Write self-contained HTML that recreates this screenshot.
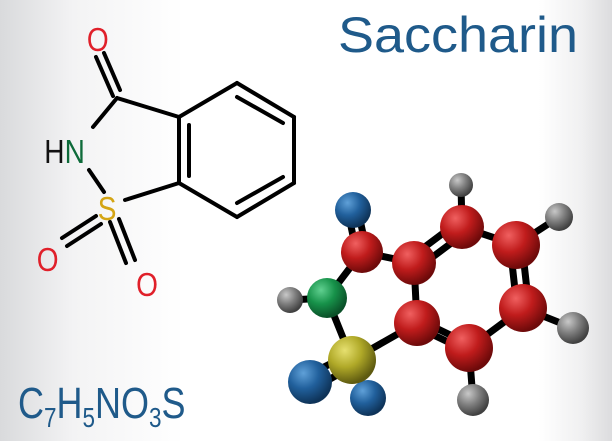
<!DOCTYPE html>
<html><head><style>
html,body{margin:0;padding:0}
body{width:612px;height:441px;overflow:hidden;background:linear-gradient(90deg,#d9dadc 0%,#f3f3f4 12%,#fff 30%,#fff 88%,#f0f0f1 95%,#dcdcde 100%);font-family:"Liberation Sans",sans-serif;position:relative}
</style></head><body>
<svg width="612" height="441" viewBox="0 0 612 441" style="position:absolute;left:0;top:0">
<defs>
<radialGradient id="r" cx="35%" cy="30%" r="70%"><stop offset="0" stop-color="#f06060"/><stop offset="0.5" stop-color="#c01c1c"/><stop offset="1" stop-color="#6e0a0a"/></radialGradient>
<radialGradient id="b" cx="35%" cy="30%" r="70%"><stop offset="0" stop-color="#5fa0d8"/><stop offset="0.5" stop-color="#21609c"/><stop offset="1" stop-color="#0e3358"/></radialGradient>
<radialGradient id="g" cx="35%" cy="30%" r="70%"><stop offset="0" stop-color="#60d090"/><stop offset="0.5" stop-color="#17924a"/><stop offset="1" stop-color="#0a5028"/></radialGradient>
<radialGradient id="y" cx="35%" cy="30%" r="70%"><stop offset="0" stop-color="#e6e070"/><stop offset="0.5" stop-color="#b0a928"/><stop offset="1" stop-color="#5e5a10"/></radialGradient>
<radialGradient id="h" cx="35%" cy="30%" r="70%"><stop offset="0" stop-color="#c8c8c8"/><stop offset="0.5" stop-color="#808080"/><stop offset="1" stop-color="#404040"/></radialGradient>
</defs>
<text x="338" y="52" font-size="50" fill="#1f5a8a" textLength="240" lengthAdjust="spacingAndGlyphs">Saccharin</text>
<g transform="translate(18,418) scale(0.9,1.1)">
<text x="0" y="0" font-size="40" fill="#1f5a8a">C<tspan font-size="25" dy="8">7</tspan><tspan dy="-8">H</tspan><tspan font-size="25" dy="8">5</tspan><tspan dy="-8">NO</tspan><tspan font-size="25" dy="8">3</tspan><tspan dy="-8">S</tspan></text>
</g>
<g stroke="#000" stroke-width="4" fill="none" stroke-linecap="round">
<line x1="96" y1="57" x2="113" y2="96"/><line x1="104" y1="53" x2="120" y2="90"/>
<line x1="117" y1="98" x2="179" y2="117"/>
<line x1="117" y1="98" x2="93" y2="127"/>
<line x1="89" y1="170" x2="104" y2="192"/>
<line x1="125" y1="200" x2="179" y2="183"/>
<line x1="179" y1="117" x2="179" y2="183"/>
<line x1="189" y1="125" x2="189" y2="176"/>
<line x1="179" y1="117" x2="237" y2="83"/>
<line x1="237" y1="83" x2="294" y2="117"/>
<line x1="237" y1="97" x2="283" y2="123"/>
<line x1="294" y1="117" x2="294" y2="183"/>
<line x1="294" y1="183" x2="237" y2="217"/>
<line x1="283" y1="177" x2="237" y2="203"/>
<line x1="237" y1="217" x2="179" y2="183"/>
<line x1="96" y1="216" x2="62" y2="238"/><line x1="101" y1="224" x2="67" y2="246"/>
<line x1="110" y1="222" x2="126" y2="263"/><line x1="119" y1="219" x2="135" y2="260"/>
</g>
<g font-size="33" transform="scale(0.85,1)">
<text x="115" y="51" fill="#e0202a" text-anchor="middle">O</text>
<text x="52" y="163" fill="#111">H</text>
<text x="76" y="163" fill="#0e6b3a">N</text>
<text x="126" y="220" fill="#d4a514" text-anchor="middle">S</text>
<text x="56" y="271" fill="#e0202a" text-anchor="middle">O</text>
<text x="173" y="296" fill="#e0202a" text-anchor="middle">O</text>
</g>
<g stroke="#000" stroke-width="7" stroke-linecap="round">
<line x1="348" y1="212" x2="356" y2="250"/><line x1="358" y1="210" x2="366" y2="248"/>
<line x1="362" y1="252" x2="414" y2="263"/>
<line x1="362" y1="252" x2="327" y2="298"/>
<line x1="327" y1="298" x2="290" y2="300"/>
<line x1="327" y1="298" x2="352" y2="360"/>
<line x1="352" y1="360" x2="417" y2="323"/>
<line x1="414" y1="263" x2="417" y2="323"/>
<line x1="410" y1="258" x2="458" y2="222"/><line x1="418" y1="268" x2="466" y2="232"/>
<line x1="462" y1="227" x2="461" y2="185"/>
<line x1="462" y1="227" x2="516" y2="245"/>
<line x1="516" y1="245" x2="559" y2="217"/>
<line x1="510" y1="245" x2="517" y2="308"/><line x1="522" y1="245" x2="529" y2="308"/>
<line x1="523" y1="308" x2="573" y2="328"/>
<line x1="523" y1="308" x2="469" y2="348"/>
<line x1="415" y1="318" x2="467" y2="343"/><line x1="419" y1="328" x2="471" y2="353"/>
<line x1="469" y1="348" x2="473" y2="400"/>
<line x1="348" y1="355" x2="306" y2="376"/><line x1="355" y1="365" x2="314" y2="388"/>
<line x1="352" y1="360" x2="368" y2="398"/>
</g>
<circle cx="353" cy="210" r="18" fill="url(#b)"/>
<circle cx="461" cy="185" r="12" fill="url(#h)"/>
<circle cx="559" cy="217" r="14" fill="url(#h)"/>
<circle cx="290" cy="300" r="13" fill="url(#h)"/>
<circle cx="573" cy="328" r="16" fill="url(#h)"/>
<circle cx="473" cy="400" r="16" fill="url(#h)"/>
<circle cx="362" cy="252" r="21" fill="url(#r)"/>
<circle cx="462" cy="227" r="22" fill="url(#r)"/>
<circle cx="516" cy="245" r="24" fill="url(#r)"/>
<circle cx="414" cy="263" r="22" fill="url(#r)"/>
<circle cx="327" cy="298" r="20" fill="url(#g)"/>
<circle cx="417" cy="323" r="23" fill="url(#r)"/>
<circle cx="523" cy="308" r="24" fill="url(#r)"/>
<circle cx="469" cy="348" r="24" fill="url(#r)"/>
<circle cx="368" cy="398" r="18" fill="url(#b)"/>
<circle cx="352" cy="360" r="24" fill="url(#y)"/>
<circle cx="310" cy="382" r="22" fill="url(#b)"/>
</svg>
</body></html>
